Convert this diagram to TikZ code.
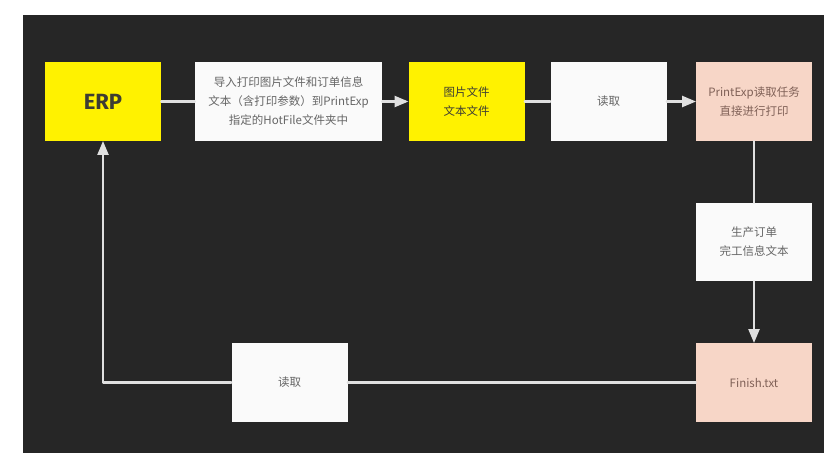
\documentclass[tikz,border=0pt]{standalone}
\usepackage{fontspec}
\setmainfont{Fira Sans}
\newfontfamily\cjk{Noto Sans CJK SC}
\usetikzlibrary{arrows}
\definecolor{sqsqsq}{rgb}{0.15,0.15,0.15}
\definecolor{dcdcdc}{rgb}{0.88,0.88,0.88}
\definecolor{ffffqq}{rgb}{1,0.95,0}
\definecolor{ffdxcc}{rgb}{0.97,0.84,0.78}
\definecolor{fafafa}{rgb}{0.98,0.98,0.98}
\definecolor{uuuuuu}{rgb}{0.4,0.4,0.4}
\definecolor{zzuuqq}{rgb}{0.5,0.38,0.34}
\definecolor{qqqqtt}{rgb}{0.24,0.24,0.2}
\begin{document}
\begin{tikzpicture}[line cap=round,line join=round,>=triangle 45,x=1pt,y=-1pt,
  box/.style={inner sep=0pt,minimum width=116pt,minimum height=79pt,align=center,
    font=\cjk\fontsize{11.5}{19}\selectfont,text=uuuuuu},
  yellowbox/.style={box,fill=ffffqq,text=qqqqtt},
  whitebox/.style={box,fill=fafafa},
  pinkbox/.style={box,fill=ffdxcc,text=zzuuqq},
  link/.style={draw=dcdcdc,line width=2.2pt}]
\useasboundingbox[fill=white] (0,0) rectangle (824,453);
\fill[color=sqsqsq] (23,15) rectangle (824,453);
% top row
\node[yellowbox,font=\bfseries\fontsize{22}{26}\selectfont] (erp) at (103,101.5) {ERP};
\node[whitebox,minimum width=187pt] (import) at (288.5,101.5) {导入打印图片文件和订单信息\\文本（含打印参数）到PrintExp\\指定的HotFile文件夹中};
\node[yellowbox] (files) at (466.5,101.5) {图片文件\\文本文件};
\node[whitebox] (read1) at (608.5,101.5) {读取};
\node[pinkbox] (print) at (754,101.5) {PrintExp读取任务\\直接进行打印};
% right column and bottom row
\node[whitebox,minimum height=78pt] (done) at (754,242) {生产订单\\完工信息文本};
\node[pinkbox] (finish) at (754,382.5) {Finish.txt};
\node[whitebox] (read2) at (289.5,382.5) {读取};
\draw[link] (erp) -- (import);
\draw[link,->] (import) -- (files);
\draw[link] (files) -- (read1);
\draw[link,->] (read1) -- (print);
\draw[link] (print) -- (done);
\draw[link,->] (done) -- (finish);
\draw[link] (finish) -- (read2);
\draw[link,->] (read2.west) -| (erp.south);
\end{tikzpicture}
\end{document}
